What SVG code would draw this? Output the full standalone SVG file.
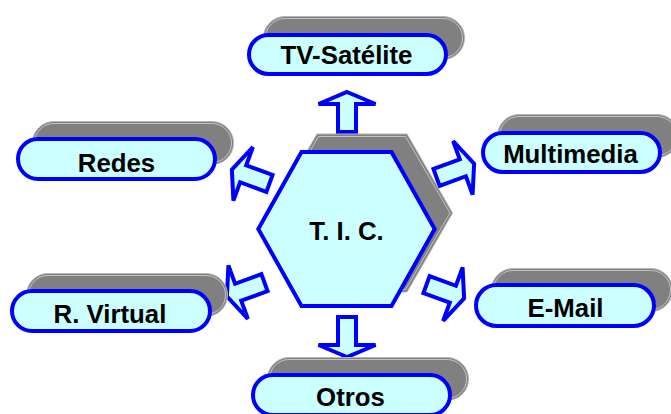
<svg xmlns="http://www.w3.org/2000/svg" xmlns:xlink="http://www.w3.org/1999/xlink" width="671" height="414" viewBox="0 0 671 414">
<style>
.sh{fill:#808080;stroke:#b4b4b4;stroke-width:1}
.shi{fill:none;stroke:#ffffff;stroke-width:0.7;stroke-opacity:0.75}
.pill{fill:#CCFFFF;stroke:#0000FF;stroke-width:4}
.lbl{font-family:"Liberation Sans",Arial,Helvetica,sans-serif;font-weight:bold;font-size:25.8px;fill:#000000;text-anchor:middle}
.arr{fill:#CCFFFF;stroke:#0000FF;stroke-width:4;stroke-linejoin:miter}
</style>
<defs>
<path id="arrow" d="M0,2 L28.5,14 L9,14 L9,42 L-9,42 L-9,14 L-28.5,14 Z"/>
</defs>
<rect width="671" height="414" fill="#ffffff"/>
<g id="connectors">
<use xlink:href="#arrow" class="arr" transform="translate(347,90)"/>
<use xlink:href="#arrow" class="arr" transform="translate(347,359) rotate(180)"/>
<use xlink:href="#arrow" class="arr" transform="translate(476,163) rotate(70)"/>
<use xlink:href="#arrow" class="arr" transform="translate(466,299) rotate(110)"/>
<use xlink:href="#arrow" class="arr" transform="translate(225,297) rotate(-110)"/>
<use xlink:href="#arrow" class="arr" transform="translate(230,169) rotate(-70)"/>
</g>
<g id="tic">
<polygon class="sh" points="271.5,213 317,134 407,134 452.5,213 407,292 317,292"/>
<polygon class="shi" points="274,213 318.5,136.5 405.5,136.5 450,213 405.5,289.5 318.5,289.5"/>
<polygon class="pill" points="258.3,229 301.5,152 391.5,152 434.7,229 391.5,306 301.5,306"/>
<text class="lbl" x="346.5" y="240">T. I. C.</text>
</g>
<g id="tv-satelite">
<rect class="sh" x="263.5" y="16.5" width="201" height="43" rx="21.5"/>
<rect class="shi" x="265.5" y="18.5" width="197" height="39" rx="19.5"/>
<rect class="pill" x="249" y="35" width="197" height="39" rx="19.5"/>
<text class="lbl" x="346.5" y="64">TV-Satélite</text>
</g>
<g id="redes">
<rect class="sh" x="32.5" y="121.5" width="201" height="43" rx="21.5"/>
<rect class="shi" x="34.5" y="123.5" width="197" height="39" rx="19.5"/>
<rect class="pill" x="18" y="139" width="197" height="40" rx="20"/>
<text class="lbl" x="116.5" y="172">Redes</text>
</g>
<g id="multimedia">
<rect class="sh" x="497.5" y="114.5" width="181" height="43" rx="21.5"/>
<rect class="shi" x="499.5" y="116.5" width="177" height="39" rx="19.5"/>
<rect class="pill" x="483" y="133" width="177" height="39" rx="19.5"/>
<text class="lbl" x="570.5" y="163">Multimedia</text>
</g>
<g id="r-virtual">
<rect class="sh" x="26.5" y="273.5" width="201" height="43" rx="21.5"/>
<rect class="shi" x="28.5" y="275.5" width="197" height="39" rx="19.5"/>
<rect class="pill" x="12" y="291" width="198" height="40" rx="20"/>
<text class="lbl" x="110" y="323">R. Virtual</text>
</g>
<g id="e-mail">
<rect class="sh" x="491.5" y="268.5" width="181" height="43" rx="21.5"/>
<rect class="shi" x="493.5" y="270.5" width="177" height="39" rx="19.5"/>
<rect class="pill" x="476" y="285" width="178" height="41" rx="20.5"/>
<text class="lbl" x="565.5" y="317">E-Mail</text>
</g>
<g id="otros">
<rect class="sh" x="267.5" y="357.5" width="201" height="43" rx="21.5"/>
<rect class="shi" x="269.5" y="359.5" width="197" height="39" rx="19.5"/>
<rect class="pill" x="253" y="375" width="197" height="40" rx="20"/>
<text class="lbl" x="350.5" y="406">Otros</text>
</g>
</svg>
